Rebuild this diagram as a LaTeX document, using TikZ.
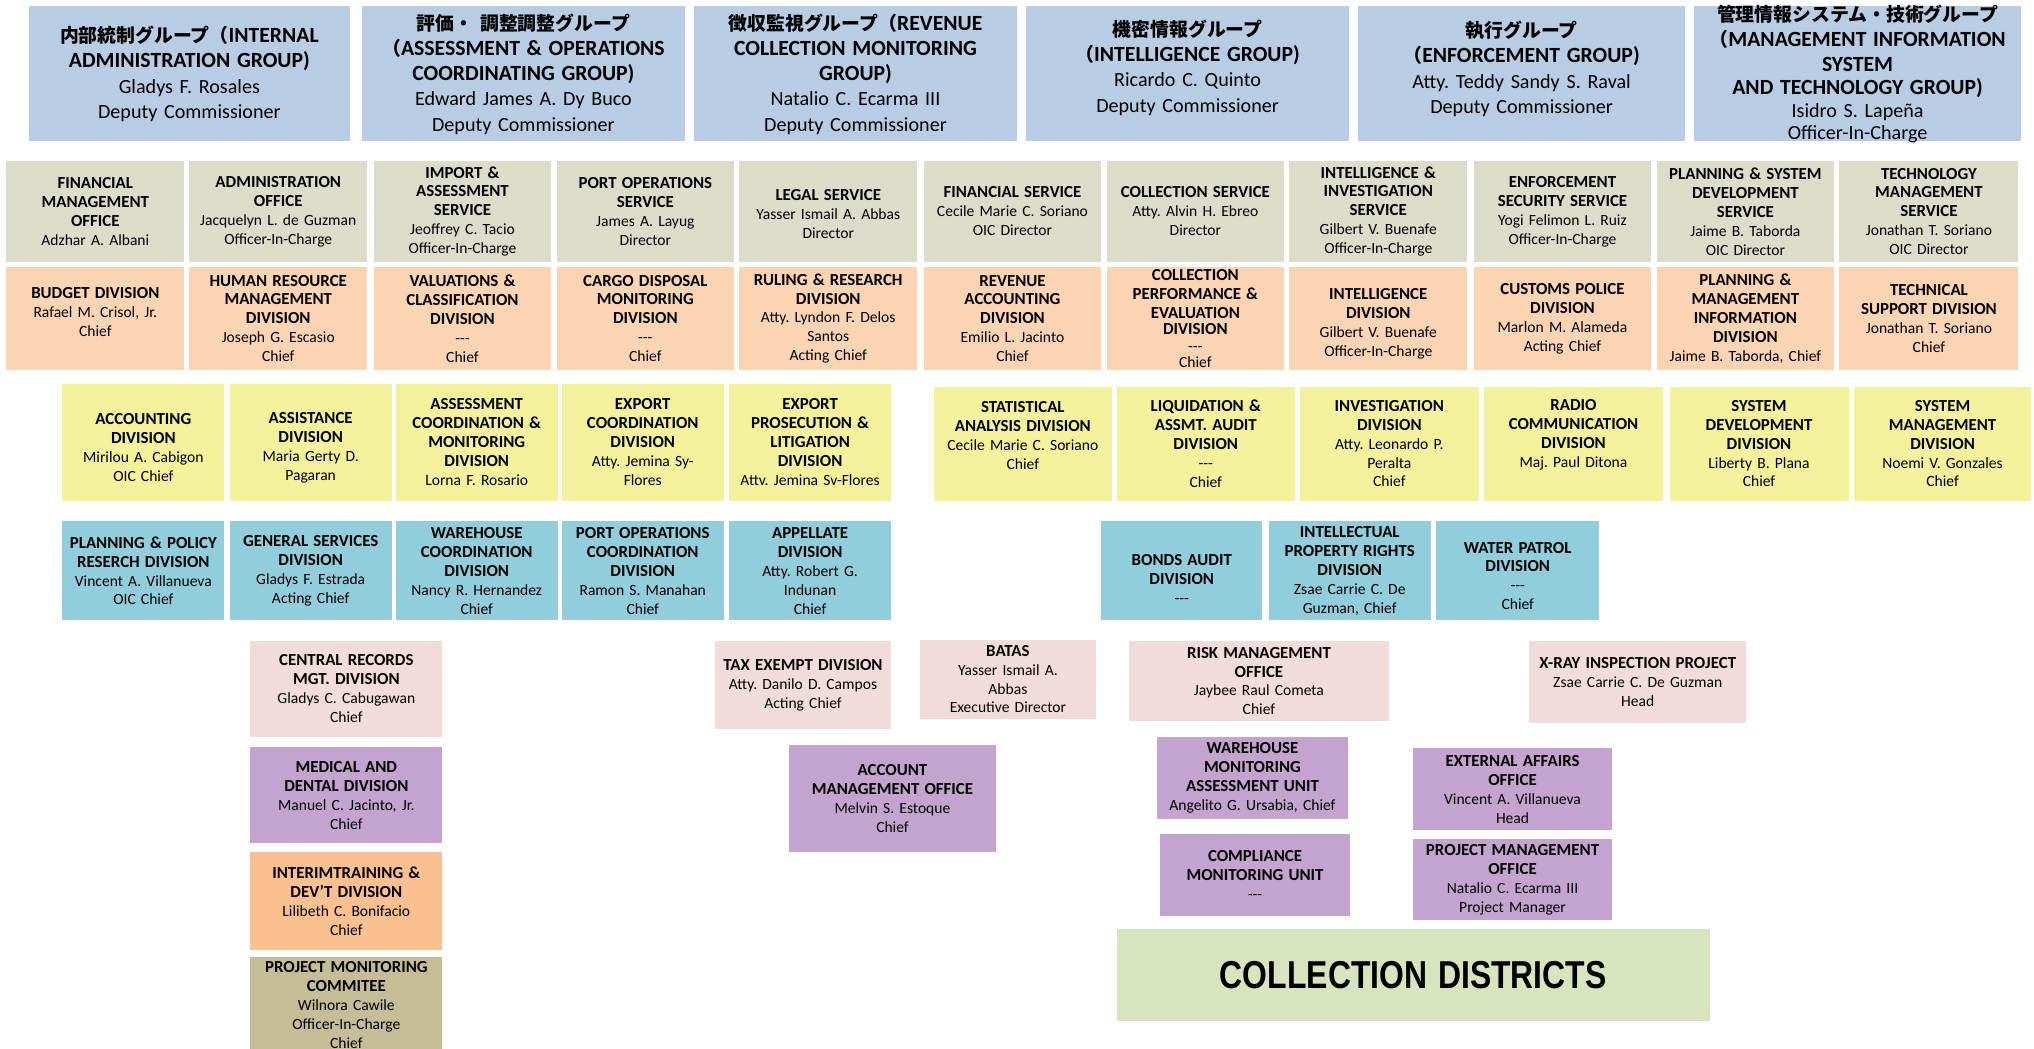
\documentclass[tikz,border=0pt]{standalone}
\usepackage{fontspec}
\setmainfont{Carlito}
\newfontfamily\cjk[Scale=0.87]{Noto Sans CJK JP}
\newfontfamily\narrowf[FakeStretch=0.82]{Liberation Sans}
\newcommand\fp{{\cjk （}}
\newcommand\dsh{-{}-{}-}
\newcommand\hd{\bfseries\fontsize{13}{14.6}\selectfont}
\newcommand\hdtop{\bfseries\fontsize{16.7}{19.5}\selectfont}
\definecolor{topblue}{HTML}{B8CCE4}
\definecolor{svc}{HTML}{DCDCCA}
\definecolor{peach}{HTML}{FBD4B4}
\definecolor{yel}{HTML}{F3F19B}
\definecolor{cyanb}{HTML}{92CDDC}
\definecolor{pinkb}{HTML}{F2DCDB}
\definecolor{purp}{HTML}{C4A4CE}
\definecolor{orng}{HTML}{FAC090}
\definecolor{tanb}{HTML}{C4BD97}
\definecolor{grn}{HTML}{D7E4BD}
\tikzset{
  boxfill/.style={inner sep=0pt, outer sep=0pt, draw=none},
  boxtext/.style={align=center, inner sep=0pt, font=\frenchspacing\fontsize{12}{14.6}\selectfont},
  toptext/.style={font=\frenchspacing\fontsize{15.5}{19.5}\selectfont},
}
\newcommand\bx[8]{%
  \pgfmathsetmacro\bw{#5-#3}%
  \pgfmathsetmacro\bh{#6-#4}%
  \pgfmathsetmacro\tw{#5-#3-2}%
  \pgfmathsetmacro\cx{(#3+#5)/2}%
  \pgfmathsetmacro\cy{(#4+#6)/2}%
  \node[boxfill, fill=#2, minimum width=\bw pt, minimum height=\bh pt] (#1) at (\cx,\cy) {};%
  \node[boxtext, text width=\tw pt, #7] (#1-t) at (#1.center) {#8};%
}
\begin{document}
\begin{tikzpicture}[x=1pt,y=-1pt]
\useasboundingbox (0,0) rectangle (1568,808);
\fill[white] (0,0) rectangle (1568,808);
\clip (0,0) rectangle (1568,808);
% ---- top row: groups
\bx{g1}{topblue}{22}{5}{270}{109}{toptext}{{\hdtop{\cjk 内部統制グループ}\fp INTERNAL\\ADMINISTRATION GROUP)}\\Gladys F. Rosales\\Deputy Commissioner}
\bx{g2}{topblue}{279}{5}{528}{109}{toptext}{{\hdtop{\cjk 評価・ 調整調整グループ}\\\fp ASSESSMENT \& OPERATIONS\\COORDINATING GROUP)}\\Edward James A. Dy Buco\\Deputy Commissioner}
\bx{g3}{topblue}{535}{5}{784}{109}{toptext}{{\hdtop{\cjk 徴収監視グループ}\fp REVENUE\\COLLECTION MONITORING\\GROUP)}\\Natalio C. Ecarma III\\Deputy Commissioner}
\bx{g4}{topblue}{791}{5}{1040}{109}{toptext, yshift=5pt}{{\hdtop{\cjk 機密情報グループ}\\\fp INTELLIGENCE GROUP)}\\Ricardo C. Quinto\\Deputy Commissioner}
\bx{g5}{topblue}{1047}{5}{1299}{109}{toptext, yshift=4pt}{{\hdtop{\cjk 執行グループ}\\\fp ENFORCEMENT GROUP)}\\Atty. Teddy Sandy S. Raval\\Deputy Commissioner}
\bx{g6}{topblue}{1306}{5}{1558}{109}{font=\frenchspacing\fontsize{15.5}{17.4}\selectfont}{{\hdtop{\cjk 管理情報システム・技術グループ}\\\fp MANAGEMENT INFORMATION\\SYSTEM\\AND TECHNOLOGY GROUP)}\\Isidro S. Lapeña\\Officer-In-Charge}
% ---- services row
\bx{s1}{svc}{5}{124}{142}{202}{}{{\hd FINANCIAL\\MANAGEMENT\\OFFICE}\\Adzhar A. Albani}
\bx{s2}{svc}{146}{124}{283}{202}{}{{\hd ADMINISTRATION\\OFFICE}\\Jacquelyn L. de Guzman\\Officer-In-Charge}
\bx{s3}{svc}{288}{124}{425}{202}{}{{\hd IMPORT \&\\ASSESSMENT\\SERVICE}\\Jeoffrey C. Tacio\\Officer-In-Charge}
\bx{s4}{svc}{429}{124}{566}{202}{}{{\hd PORT OPERATIONS\\SERVICE}\\James A. Layug\\Director}
\bx{s5}{svc}{570}{124}{707}{202}{yshift=-2pt}{{\hd LEGAL SERVICE}\\Yasser Ismail A. Abbas\\Director}
\bx{s6}{svc}{712}{124}{849}{202}{}{{\hd FINANCIAL SERVICE}\\Cecile Marie C. Soriano\\OIC Director}
\bx{s7}{svc}{853}{124}{990}{202}{}{{\hd COLLECTION SERVICE}\\Atty. Alvin H. Ebreo\\Director}
\bx{s8}{svc}{994}{124}{1131}{202}{}{{\hd INTELLIGENCE \&\\INVESTIGATION\\SERVICE}\\Gilbert V. Buenafe\\Officer-In-Charge}
\bx{s9}{svc}{1136}{124}{1273}{202}{}{{\hd ENFORCEMENT\\SECURITY SERVICE}\\Yogi Felimon L. Ruiz\\Officer-In-Charge}
\bx{s10}{svc}{1277}{124}{1414}{202}{}{{\hd PLANNING \& SYSTEM\\DEVELOPMENT\\SERVICE}\\Jaime B. Taborda\\OIC Director}
\bx{s11}{svc}{1418}{124}{1556}{202}{}{{\hd TECHNOLOGY\\MANAGEMENT\\SERVICE}\\Jonathan T. Soriano\\OIC Director}
% ---- peach row
\bx{d1}{peach}{5}{206}{142}{285}{yshift=5pt}{{\hd BUDGET DIVISION}\\Rafael M. Crisol, Jr.\\Chief}
\bx{d2}{peach}{146}{206}{283}{285}{}{{\hd HUMAN RESOURCE\\MANAGEMENT\\DIVISION}\\Joseph G. Escasio\\Chief}
\bx{d3}{peach}{288}{206}{425}{285}{}{{\hd VALUATIONS \&\\CLASSIFICATION\\DIVISION}\\\dsh\\Chief}
\bx{d4}{peach}{429}{206}{566}{285}{}{{\hd CARGO DISPOSAL\\MONITORING\\DIVISION}\\\dsh\\Chief}
\bx{d5}{peach}{570}{206}{707}{285}{}{{\hd RULING \& RESEARCH\\DIVISION}\\Atty. Lyndon F. Delos\\Santos\\Acting Chief}
\bx{d6}{peach}{712}{206}{849}{285}{}{{\hd REVENUE\\ACCOUNTING\\DIVISION}\\Emilio L. Jacinto\\Chief}
\bx{d7}{peach}{853}{206}{990}{285}{font=\frenchspacing\fontsize{12}{12.7}\selectfont}{{\hd COLLECTION\\PERFORMANCE \&\\EVALUATION\\DIVISION}\\\dsh\\Chief}
\bx{d8}{peach}{994}{206}{1131}{285}{yshift=-4pt}{{\hd INTELLIGENCE\\DIVISION}\\Gilbert V. Buenafe\\Officer-In-Charge}
\bx{d9}{peach}{1136}{206}{1273}{285}{}{{\hd CUSTOMS POLICE\\DIVISION}\\Marlon M. Alameda\\Acting Chief}
\bx{d10}{peach}{1277}{206}{1414}{285}{}{{\hd PLANNING \&\\MANAGEMENT\\INFORMATION\\DIVISION}\\Jaime B. Taborda, Chief}
\bx{d11}{peach}{1418}{206}{1556}{285}{}{{\hd TECHNICAL\\SUPPORT DIVISION}\\Jonathan T. Soriano\\Chief}
% ---- yellow row
\bx{y1}{yel}{48}{296}{173}{386}{yshift=-4pt}{{\hd ACCOUNTING\\DIVISION}\\Mirilou A. Cabigon\\OIC Chief}
\bx{y2}{yel}{177}{296}{302}{386}{yshift=-4pt}{{\hd ASSISTANCE\\DIVISION}\\Maria Gerty D.\\Pagaran}
\bx{y3}{yel}{305}{296}{430}{386}{}{{\hd ASSESSMENT\\COORDINATION \&\\MONITORING\\DIVISION}\\Lorna F. Rosario}
\bx{y4}{yel}{433}{296}{558}{386}{}{{\hd EXPORT\\COORDINATION\\DIVISION}\\Atty. Jemina Sy-\\Flores}
\bx{y5}{yel}{562}{296}{687}{386}{}{{\hd EXPORT\\PROSECUTION \&\\LITIGATION\\DIVISION}\\Attv. Jemina Sv-Flores}
\bx{y6}{yel}{720}{298}{857}{386}{yshift=6pt}{{\hd STATISTICAL\\ANALYSIS DIVISION}\\Cecile Marie C. Soriano\\Chief}
\bx{y7}{yel}{861}{298}{998}{386}{}{{\hd LIQUIDATION \&\\ASSMT. AUDIT\\DIVISION}\\\dsh\\Chief}
\bx{y8}{yel}{1002}{298}{1140}{386}{}{{\hd INVESTIGATION\\DIVISION}\\Atty. Leonardo P.\\Peralta\\Chief}
\bx{y9}{yel}{1144}{298}{1282}{386}{yshift=7pt}{{\hd RADIO\\COMMUNICATION\\DIVISION}\\Maj. Paul Ditona}
\bx{y10}{yel}{1287}{298}{1425}{386}{}{{\hd SYSTEM\\DEVELOPMENT\\DIVISION}\\Liberty B. Plana\\Chief}
\bx{y11}{yel}{1429}{298}{1566}{386}{}{{\hd SYSTEM\\MANAGEMENT\\DIVISION}\\Noemi V. Gonzales\\Chief}
% ---- blue row
\bx{b1}{cyanb}{48}{402}{173}{478}{}{{\hd PLANNING \& POLICY\\RESERCH DIVISION}\\Vincent A. Villanueva\\OIC Chief}
\bx{b2}{cyanb}{177}{402}{302}{478}{}{{\hd GENERAL SERVICES\\DIVISION}\\Gladys F. Estrada\\Acting Chief}
\bx{b3}{cyanb}{305}{402}{430}{478}{}{{\hd WAREHOUSE\\COORDINATION\\DIVISION}\\Nancy R. Hernandez\\Chief}
\bx{b4}{cyanb}{433}{402}{558}{478}{}{{\hd PORT OPERATIONS\\COORDINATION\\DIVISION}\\Ramon S. Manahan\\Chief}
\bx{b5}{cyanb}{562}{402}{687}{478}{}{{\hd APPELLATE\\DIVISION}\\Atty. Robert G.\\Indunan\\Chief}
\bx{b6}{cyanb}{849}{402}{973}{478}{yshift=-6pt}{{\hd BONDS AUDIT\\DIVISION}\\\dsh}
\bx{b7}{cyanb}{978}{402}{1103}{478}{}{{\hd INTELLECTUAL\\PROPERTY RIGHTS\\DIVISION}\\Zsae Carrie C. De\\Guzman, Chief}
\bx{b8}{cyanb}{1107}{402}{1233}{478}{yshift=-4pt}{{\hd WATER PATROL\\DIVISION}\\\dsh\\Chief}
% ---- lower boxes
\bx{p1}{pinkb}{193}{494}{341}{568}{}{{\hd CENTRAL RECORDS\\MGT. DIVISION}\\Gladys C. Cabugawan\\Chief}
\bx{u1}{purp}{193}{576}{341}{650}{}{{\hd MEDICAL AND\\DENTAL DIVISION}\\Manuel C. Jacinto, Jr.\\Chief}
\bx{o1}{orng}{193}{657}{341}{732}{}{{\hd INTERIMTRAINING \&\\DEV’T DIVISION}\\Lilibeth C. Bonifacio\\Chief}
\bx{t1}{tanb}{193}{738}{341}{811}{}{{\hd PROJECT MONITORING\\COMMITEE}\\Wilnora Cawile\\Officer-In-Charge\\Chief}
\bx{p2}{pinkb}{551}{494}{687}{562}{}{{\hd TAX EXEMPT DIVISION}\\Atty. Danilo D. Campos\\Acting Chief}
\bx{p3}{pinkb}{709}{493}{845}{554}{}{{\hd BATAS}\\Yasser Ismail A.\\Abbas\\Executive Director}
\bx{u2}{purp}{608}{574}{768}{657}{}{{\hd ACCOUNT\\MANAGEMENT OFFICE}\\Melvin S. Estoque\\Chief}
\bx{p4}{pinkb}{870}{494}{1071}{556}{}{{\hd RISK MANAGEMENT\\OFFICE}\\Jaybee Raul Cometa\\Chief}
\bx{p5}{pinkb}{1179}{494}{1346}{557}{}{{\hd X-RAY INSPECTION PROJECT}\\Zsae Carrie C. De Guzman\\Head}
\bx{u3}{purp}{892}{568}{1039}{631}{}{{\hd WAREHOUSE\\MONITORING\\ASSESSMENT UNIT}\\Angelito G. Ursabia, Chief}
\bx{u4}{purp}{894}{643}{1041}{706}{}{{\hd COMPLIANCE\\MONITORING UNIT}\\\dsh}
\bx{u5}{purp}{1089}{577}{1243}{640}{}{{\hd EXTERNAL AFFAIRS\\OFFICE}\\Vincent A. Villanueva\\Head}
\bx{u6}{purp}{1089}{647}{1243}{709}{}{{\hd PROJECT MANAGEMENT\\OFFICE}\\Natalio C. Ecarma III\\Project Manager}
\bx{cd}{grn}{861}{716}{1318}{787}{}{{\narrowf\bfseries\fontsize{30}{34}\selectfont COLLECTION\hspace{0.28em}DISTRICTS}}
\end{tikzpicture}
\end{document}
